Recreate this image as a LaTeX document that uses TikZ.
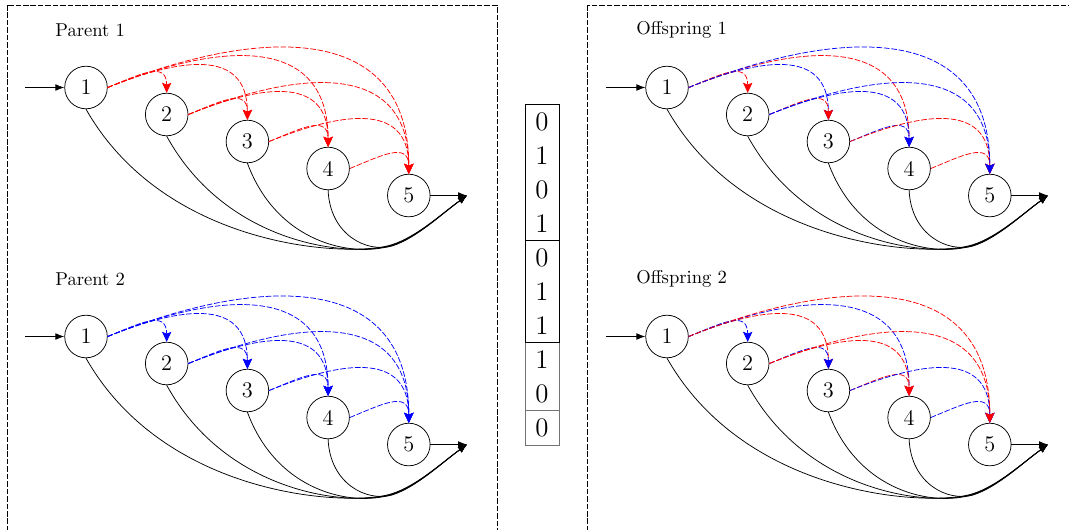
\documentclass[tikz,border=0pt]{standalone}
\usetikzlibrary{arrows.meta}

% one panel: prefix, x shift, y shift, title, list of source/target/colour edges
\newcommand\drawpanel[5]{%
  \begin{scope}[shift={(#2,#3)}]
    \node[paneltitle] (#1-title) at (55,-30) {#4};
    \foreach \i in {1,...,5}{
      \node[state] (#1-\i) at ({86+80.7*(\i-1)},{-87.5-27*(\i-1)}) {\i};
    }
    \coordinate (#1-in)  at (25,-87.5);
    \coordinate (#1-out) at (467,-195.5);
    \draw[flow] (#1-in) -- (#1-1);
    \draw[flow] (#1-5) -- (#1-out);
    % every state may jump straight to the exit; the four paths merge before it
    \foreach \i/\ax/\ay/\bx/\by in {1/166/250/352/258, 2/227/246/352/258, 3/277/243/352/258, 4/330/235/367/253}{
      \coordinate (#1-m\i) at (392,{-244.2-0.45*\i});
      \draw[flow] (#1-\i.south) .. controls (\ax,-\ay) and (\bx,-\by) .. (#1-m\i)
                  .. controls +(25,8) and +(-25,-18) .. (#1-out);
    }
    \foreach \s/\t/\c in {#5}{
      \pgfmathtruncatemacro\k{\t-\s}
      \edef\lk{\ifcase\k\or1.42\or1.32\or1.30\or1.28\fi}
      \draw[skip, color=\c] (#1-\s.east) to[out=22, in=90, looseness=\lk] (#1-\t.north);
    }
  \end{scope}}

\begin{document}
\begin{tikzpicture}[x=0.5376pt, y=0.5376pt,
  state/.style={circle, draw, minimum size=22.9pt, inner sep=0pt, font=\large},
  paneltitle/.style={anchor=west, inner sep=0pt, font=\normalsize},
  flow/.style={-{Latex[length=4.8pt, width=3.6pt]}},
  skip/.style={dash pattern=on 3pt off 1pt, -{Stealth[length=5.4pt, width=5pt, inset=1pt]}},
  frame/.style={dash pattern=on 3pt off 1pt},
  bit/.style={inner sep=0pt, font=\Large}]
  \useasboundingbox (0,0) rectangle (1069,-529);
  \clip (0,0) rectangle (1069,-529);

  % dashed frames around the parents and the offspring
  \draw[frame] (7,-5) rectangle (497,-560);
  \draw[frame] (587,-5) rectangle (1090,-560);

  \drawpanel{pa}{0}{0}{Parent 1}{1/2/red,1/3/red,1/4/red,1/5/red,3/4/red,3/5/red,4/5/red,2/3/red,2/4/red,2/5/red}
  \drawpanel{pb}{0}{-249}{Parent 2}{1/2/blue,1/3/blue,1/4/blue,1/5/blue,3/4/blue,3/5/blue,4/5/blue,2/3/blue,2/4/blue,2/5/blue}
  \drawpanel{oa}{581}{0}{Offspring 1}{1/2/red,1/3/blue,1/4/red,1/5/blue,3/4/blue,3/5/red,4/5/red,2/3/red,2/4/blue,2/5/blue}
  \drawpanel{ob}{581}{-249}{Offspring 2}{1/2/blue,1/3/red,1/4/blue,1/5/red,3/4/red,3/5/blue,4/5/blue,2/3/blue,2/4/red,2/5/red}

  % crossover mask, one group of bits per source node
  \draw[black!55] (525,-342) rectangle (559.3,-410);
  \draw[black!55] (525,-410) rectangle (559.3,-445);
  \draw (525,-104) rectangle (559.3,-240);
  \draw (525,-240) rectangle (559.3,-342);
  \foreach \k/\v in {1/0,2/1,3/0,4/1,5/0,6/1,7/1,8/1,9/0,10/0}{
    \node[bit] (b\k) at (542,{-(104+34*(\k-0.5)+1)}) {\v};
  }
\end{tikzpicture}
\end{document}
